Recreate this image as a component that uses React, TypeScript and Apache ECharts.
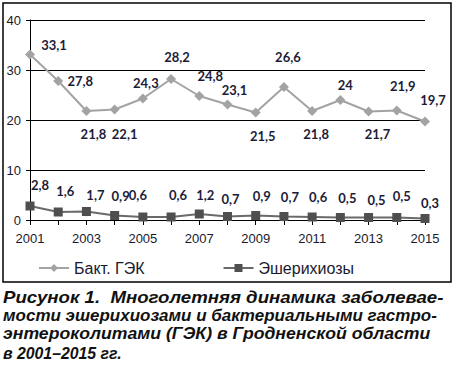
import React, { useEffect, useRef } from "react";
import * as echarts from "echarts";

const years = ["2001","2002","2003","2004","2005","2006","2007","2008","2009","2010","2011","2012","2013","2014","2015"];
const baktGEK = [33.1, 27.8, 21.8, 22.1, 24.3, 28.2, 24.8, 23.1, 21.5, 26.6, 21.8, 24, 21.7, 21.9, 19.7];
const esherihiozy = [2.8, 1.6, 1.7, 0.9, 0.6, 0.6, 1.2, 0.7, 0.9, 0.7, 0.6, 0.5, 0.5, 0.5, 0.3];
const seriesNames = ["Бакт. ГЭК", "Эшерихиозы"];
const captionLines = [
  "Рисунок 1.  Многолетняя динамика заболевае-",
  "мости эшерихиозами и бактериальными гастро-",
  "энтероколитами (ГЭК) в Гродненской области",
  "в 2001–2015 гг.",
];

// label layout offsets (px) relative to each point
const baktOffsets = [[24,-10],[22,0],[7,23],[10,24],[3,-16],[6,-22],[11,-20],[7,-15],[7,23],[4,-30],[4,23],[5,-15],[9,22],[6,-25],[8,-22]];
const eshOffsets = [[10,-21],[7,-21],[9,-17],[6,-20],[-5,-22],[7,-22],[6,-19],[3,-18],[6,-20],[6,-20],[6,-20],[7,-20],[8,-18],[5,-22],[5,-16]];
const captionScale = [1.13, 1.03, 1.07, 0.96];

const fmt = (v: number) => String(v).replace(".", ",");

export default function App() {
  const ref = useRef<HTMLDivElement>(null);
  useEffect(() => {
    const chart = echarts.init(ref.current!, null, { renderer: "svg" });
    const labelStyle = {
      show: true,
      position: "inside" as const,
      fontFamily: "Lato, 'Open Sans', sans-serif",
      fontWeight: "bold" as const,
      fontSize: 13,
      color: "#1c1c38",
      formatter: (p: any) => fmt(p.value),
    };
    const legendText = { fontFamily: "'Liberation Sans', Arial, sans-serif", fontSize: 16, color: "#1a1a2e" };
    chart.setOption({
      animation: false,
      backgroundColor: "#ffffff",
      grid: { left: 30, right: 29, top: 20, bottom: 145 },
      legend: {
        left: 33,
        top: 255,
        itemWidth: 30,
        itemHeight: 10,
        itemGap: 78,
        textStyle: legendText,
        data: [
          { name: seriesNames[0], textStyle: legendText },
          { name: seriesNames[1], textStyle: legendText },
        ],
      },
      xAxis: {
        type: "category",
        data: years,
        boundaryGap: false,
        axisLine: { lineStyle: { color: "#000", width: 1 } },
        axisTick: { show: true, length: 5, interval: 0, lineStyle: { color: "#000" } },
        axisLabel: { interval: 1, margin: 12, fontSize: 13, color: "#1a1a2e", fontFamily: "'Liberation Sans', Arial, sans-serif" },
        splitLine: { show: false },
      },
      yAxis: {
        type: "value",
        min: 0,
        max: 40,
        interval: 10,
        axisLine: { show: true, lineStyle: { color: "#000", width: 1 } },
        axisTick: { show: true, length: 4, lineStyle: { color: "#000" } },
        axisLabel: { margin: 9, fontSize: 13, color: "#1a1a2e", fontFamily: "'Liberation Sans', Arial, sans-serif" },
        splitLine: { show: true, lineStyle: { color: "#000", width: 1 } },
      },
      series: [
        {
          name: seriesNames[0],
          type: "line",
          data: baktGEK.map((v, i) => ({ value: v, label: { offset: baktOffsets[i] } })),
          symbol: "diamond",
          symbolSize: 10,
          itemStyle: { color: "#a3a3a3" },
          lineStyle: { color: "#a3a3a3", width: 2 },
          label: labelStyle,
          z: 3,
        },
        {
          name: seriesNames[1],
          type: "line",
          data: esherihiozy.map((v, i) => ({ value: v, label: { offset: eshOffsets[i] } })),
          symbol: "rect",
          symbolSize: 9,
          itemStyle: { color: "#4f4f4f" },
          lineStyle: { color: "#6a6a6a", width: 2 },
          label: labelStyle,
          z: 4,
        },
      ],
      graphic: [
        {
          type: "rect",
          shape: { x: 3, y: 3, width: 448, height: 279 },
          style: { fill: "none", stroke: "#000", lineWidth: 1.5 },
          silent: true,
        },
        ...captionLines.map((t, i) => ({
          type: "text",
          x: 3,
          y: 289 + i * 18.3,
          scaleX: captionScale[i],
          style: {
            text: t,
            x: 0,
            y: 0,
            fontFamily: "'Liberation Sans', Arial, sans-serif",
            fontStyle: "italic",
            fontWeight: "bold",
            fontSize: 16.5,
            lineHeight: 17,
            fill: "#111",
            textVerticalAlign: "top",
          },
        })),
      ],
    });
    return () => chart.dispose();
  }, []);
  return <div ref={ref} style={{ width: 454, height: 365, position: "absolute", left: 0, top: 0 }} />;
}
